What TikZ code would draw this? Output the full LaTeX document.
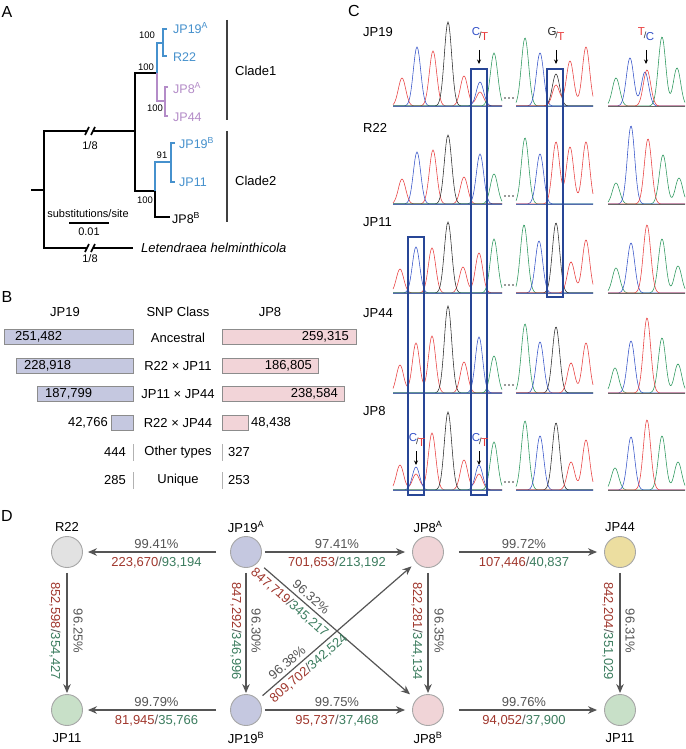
\documentclass[tikz,border=0pt]{standalone}
\usepackage{fontspec}
\setmainfont{Liberation Sans}
\usetikzlibrary{arrows.meta}
\definecolor{tblue}{RGB}{70,145,205}
\definecolor{tpurple}{RGB}{180,140,200}
\definecolor{bar19}{RGB}{197,200,224}
\definecolor{bar8}{RGB}{242,212,216}
\definecolor{pkred}{RGB}{232,60,60}
\definecolor{pkblue}{RGB}{50,80,200}
\definecolor{pkgreen}{RGB}{40,150,90}
\definecolor{pkblack}{RGB}{40,40,40}
\definecolor{boxblue}{RGB}{40,70,150}
\definecolor{nred}{RGB}{160,55,45}
\definecolor{ngreen}{RGB}{60,125,95}
\definecolor{ngray}{RGB}{85,85,85}
\definecolor{cgray}{RGB}{226,226,226}
\definecolor{cpurple}{RGB}{197,200,224}
\definecolor{cpink}{RGB}{240,212,215}
\definecolor{cyellow}{RGB}{236,222,160}
\definecolor{cgreen}{RGB}{200,224,200}
\newcommand{\gpk}[2]{+#2*exp(-min(((\x-#1)*(\x-#1))/27,15))}
\newcommand{\trace}[4]{\draw[#1,trc] plot[domain=#2:#3,samples=110] (\x,{\rb-(0#4)});}
\newcommand{\rg}[2]{\textcolor{nred}{#1}\textcolor{ngray}{/}\textcolor{ngreen}{#2}}
\newcommand{\snplab}[3]{\textcolor{#1}{\raisebox{3pt}{#2}}\kern-1pt{\fontsize{9}{10}\selectfont\textcolor{pkblack}{/}}\kern-0.5pt\textcolor{#3}}
\begin{document}
\begin{tikzpicture}[x=1pt,y=-1pt,every node/.style={inner sep=1pt},
 tree/.style={line width=2.2pt},
 clbar/.style={line width=1.3pt, draw=black!75},
 alab/.style={font=\fontsize{12.5}{14}\selectfont, anchor=west},
 boot/.style={font=\fontsize{9.5}{11}\selectfont},
 plet/.style={font=\fontsize{16}{18}\selectfont},
 btxt/.style={font=\fontsize{13}{15}\selectfont},
 b19/.style={fill=bar19, draw=black!45, line width=0.8pt},
 b8/.style={fill=bar8, draw=black!45, line width=0.8pt},
 sepline/.style={draw=black!30, line width=0.8pt},
 trc/.style={line width=0.55pt},
 cbox/.style={draw=boxblue, line width=1.1pt},
 bline/.style={draw=boxblue!80, line width=0.8pt},
 snp/.style={font=\fontsize{11.5}{12}\selectfont, inner sep=0pt},
 carr/.style={line width=0.9pt, -{Stealth[length=4.5pt,width=4pt]}},
 dnode/.style={circle, minimum size=31pt, draw=black!35, line width=0.9pt, inner sep=0pt},
 dlab/.style={font=\fontsize{13}{15}\selectfont},
 darr/.style={draw=ngray, line width=1.2pt, -{Stealth[length=9pt,width=7.5pt]}},
 pct/.style={font=\fontsize{13}{15}\selectfont, text=ngray},
 num/.style={font=\fontsize{13}{15}\selectfont}]
\fill[white] (0,0) rectangle (685,749);
\useasboundingbox (0,0) rectangle (685,749);

% ---------------- Panel A ----------------
\node[plet] (la) at (7,12) {A};
\draw[tree] (31,190) -- (44,190);
\draw[tree] (87,131) -| (44,248) -- (87,248);
\draw[tree] (93,131) -- (135,131);
\draw[tree] (93,248) -- (133,248);
\draw[line width=1.6pt] (85,135) -- (89,127) (91,135) -- (95,127);
\draw[line width=1.6pt] (85,252) -- (89,244) (91,252) -- (95,244);
\node[boot,font=\fontsize{11}{12}\selectfont] (b18a) at (90,146) {1/8};
\node[boot,font=\fontsize{11}{12}\selectfont] (b18b) at (90,259) {1/8};
\draw[tree] (157,73) -- (135,73) -- (135,191) -- (155,191);
\draw[tree,tblue] (157,73) -- (157,43) -- (163,43);
\draw[tree,tblue] (167,29) -- (163,29) -- (163,56) -- (167,56);
\draw[tree,tpurple] (157,73) -- (157,101) -- (165,101);
\draw[tree,tpurple] (168,87) -- (165,87) -- (165,116) -- (168,116);
\draw[tree,tblue] (155,191) -- (155,162) -- (171,162);
\draw[tree,tblue] (175,143) -- (171,143) -- (171,182) -- (175,182);
\draw[tree] (155,191) -- (155,217) -- (170,217);
\node[boot] (bs1) at (147,35) {100};
\node[boot] (bs2) at (146,67) {100};
\node[boot] (bs3) at (155,108) {100};
\node[boot] (bs4) at (145,200) {100};
\node[boot] (bs5) at (162,155) {91};
\node[alab,tblue] (t1) at (172,28) {JP19\textsuperscript{A}};
\node[alab,tblue] (t2) at (172,57) {R22};
\node[alab,tpurple] (t3) at (172,88) {JP8\textsuperscript{A}};
\node[alab,tpurple] (t4) at (172,117) {JP44};
\node[alab,tblue] (t5) at (178,143) {JP19\textsuperscript{B}};
\node[alab,tblue] (t6) at (178,182) {JP11};
\node[alab] (t7) at (171,218) {JP8\textsuperscript{B}};
\draw[clbar] (227,20) -- (227,120);
\draw[clbar] (227,131) -- (227,222);
\node[alab,font=\fontsize{13}{15}\selectfont] (cl1) at (234,71) {Clade1};
\node[alab,font=\fontsize{13}{15}\selectfont] (cl2) at (234,181) {Clade2};
\node[boot,font=\fontsize{11}{12}\selectfont] (sst) at (88,214) {substitutions/site};
\draw[line width=1.8pt] (69,223) -- (109,223);
\node[boot,font=\fontsize{11}{12}\selectfont] (ssv) at (89,232) {0.01};
\node[alab,font=\fontsize{13}{15}\selectfont\itshape] (out) at (140,248) {Letendraea helminthicola};

% ---------------- Panel B ----------------
\node[plet] (lb) at (7,297) {B};
\node[btxt] (h1) at (65,312) {JP19};
\node[btxt] (h2) at (178,312) {SNP Class};
\node[btxt] (h3) at (270,312) {JP8};
\draw[b19] (4,329) rectangle (133,344);
\draw[b19] (16,358) rectangle (133,373);
\draw[b19] (37,386) rectangle (133,401);
\draw[b19] (111,415) rectangle (133,430);
\draw[b8] (222,329) rectangle (356,344);
\draw[b8] (222,358) rectangle (318,373);
\draw[b8] (222,386) rectangle (344,401);
\draw[b8] (222,415) rectangle (248,430);
\node[btxt,anchor=west] (v1) at (14,336.5) {251,482};
\node[btxt,anchor=west] (v2) at (23,365.5) {228,918};
\node[btxt,anchor=west] (v3) at (44,393.5) {187,799};
\node[btxt,anchor=east] (v4) at (109,422.5) {42,766};
\node[btxt,anchor=east] (w1) at (350,336.5) {259,315};
\node[btxt,anchor=east] (w2) at (313,365.5) {186,805};
\node[btxt,anchor=east] (w3) at (339,393.5) {238,584};
\node[btxt,anchor=west] (w4) at (250,422.5) {48,438};
\node[btxt] (c1) at (178,338) {Ancestral};
\node[btxt] (c2) at (178,366) {R22 × JP11};
\node[btxt] (c3) at (178,394) {JP11 × JP44};
\node[btxt] (c4) at (178,423) {R22 × JP44};
\node[btxt] (c5) at (178,452) {Other types};
\node[btxt] (c6) at (178,480) {Unique};
\node[btxt,anchor=east] (v5) at (127,452) {444};
\node[btxt,anchor=east] (v6) at (127,480) {285};
\node[btxt,anchor=west] (w5) at (227,452) {327};
\node[btxt,anchor=west] (w6) at (227,480) {253};
\draw[sepline] (133,444) -- (133,461) (222,444) -- (222,461);
\draw[sepline] (133,472) -- (133,489) (222,472) -- (222,489);

% ---------------- Panel C ----------------
\node[plet] (lc) at (354,11) {C};
\node[btxt,anchor=west] (r1) at (362,32) {JP19};
\node[btxt,anchor=west] (r2) at (362,128) {R22};
\node[btxt,anchor=west] (r3) at (362,222) {JP11};
\node[btxt,anchor=west] (r4) at (362,313) {JP44};
\node[btxt,anchor=west] (r5) at (362,411) {JP8};
% row JP19
\def\rb{106}
\trace{pkred}{393}{502}{\gpk{402}{28}\gpk{433}{55}\gpk{464}{30}\gpk{480}{14}}
\trace{pkblue}{393}{502}{\gpk{417}{59}\gpk{480}{24}}
\trace{pkblack}{393}{502}{\gpk{448}{84}}
\trace{pkgreen}{393}{502}{\gpk{494}{53}}
\trace{pkgreen}{516}{593}{\gpk{525}{68}}
\trace{pkblue}{516}{593}{\gpk{540}{53}}
\trace{pkblack}{516}{593}{\gpk{556}{32}}
\trace{pkred}{516}{593}{\gpk{556}{21}\gpk{570}{45}\gpk{586}{59}}
\trace{pkgreen}{608}{685}{\gpk{616}{28}\gpk{662}{69}\gpk{677}{38}}
\trace{pkblue}{608}{685}{\gpk{630}{48}\gpk{645}{34}}
\trace{pkred}{608}{685}{\gpk{647}{36}}
% row R22
\def\rb{204}
\trace{pkred}{393}{502}{\gpk{402}{25}\gpk{433}{54}\gpk{464}{27}}
\trace{pkblue}{393}{502}{\gpk{417}{52}\gpk{480}{50}}
\trace{pkblack}{393}{502}{\gpk{448}{69}}
\trace{pkgreen}{393}{502}{\gpk{494}{30}}
\trace{pkgreen}{516}{593}{\gpk{525}{66}}
\trace{pkblue}{516}{593}{\gpk{540}{50}}
\trace{pkred}{516}{593}{\gpk{556}{62}\gpk{570}{57}\gpk{586}{62}}
\trace{pkgreen}{608}{685}{\gpk{616}{21}\gpk{663}{49}\gpk{679}{26}}
\trace{pkblue}{608}{685}{\gpk{631}{78}}
\trace{pkred}{608}{685}{\gpk{648}{65}}
% row JP11
\def\rb{293}
\trace{pkred}{393}{502}{\gpk{400}{24}\gpk{432}{45}\gpk{463}{26}\gpk{479}{40}}
\trace{pkblue}{393}{502}{\gpk{416}{46}}
\trace{pkblack}{393}{502}{\gpk{448}{71}}
\trace{pkgreen}{393}{502}{\gpk{494}{54}}
\trace{pkgreen}{516}{593}{\gpk{524}{68}}
\trace{pkblue}{516}{593}{\gpk{539}{52}}
\trace{pkblack}{516}{593}{\gpk{556}{70}}
\trace{pkred}{516}{593}{\gpk{571}{31}\gpk{586}{53}}
\trace{pkgreen}{608}{685}{\gpk{616}{25}\gpk{662}{54}\gpk{678}{27}}
\trace{pkblue}{608}{685}{\gpk{631}{50}}
\trace{pkred}{608}{685}{\gpk{647}{68}}
% row JP44
\def\rb{393}
\trace{pkred}{393}{502}{\gpk{400}{28}\gpk{416}{50}\gpk{432}{57}\gpk{464}{31}}
\trace{pkblack}{393}{502}{\gpk{448}{87}}
\trace{pkblue}{393}{502}{\gpk{479}{56}}
\trace{pkgreen}{393}{502}{\gpk{494}{37}}
\trace{pkgreen}{516}{593}{\gpk{525}{69}}
\trace{pkblue}{516}{593}{\gpk{540}{51}}
\trace{pkblack}{516}{593}{\gpk{556}{66}}
\trace{pkred}{516}{593}{\gpk{571}{30}\gpk{586}{50}}
\trace{pkgreen}{608}{685}{\gpk{615}{25}\gpk{662}{55}\gpk{678}{29}}
\trace{pkblue}{608}{685}{\gpk{631}{52}}
\trace{pkred}{608}{685}{\gpk{647}{75}}
% row JP8
\def\rb{490}
\trace{pkred}{393}{502}{\gpk{400}{25}\gpk{416}{16}\gpk{432}{57}\gpk{464}{30}\gpk{479}{16}}
\trace{pkblue}{393}{502}{\gpk{416}{23}\gpk{479}{25}}
\trace{pkblack}{393}{502}{\gpk{448}{78}}
\trace{pkgreen}{393}{502}{\gpk{494}{48}}
\trace{pkgreen}{516}{593}{\gpk{525}{69}}
\trace{pkblue}{516}{593}{\gpk{540}{54}}
\trace{pkblack}{516}{593}{\gpk{556}{67}}
\trace{pkred}{516}{593}{\gpk{571}{28}\gpk{586}{50}}
\trace{pkgreen}{608}{685}{\gpk{615}{22}\gpk{662}{54}\gpk{678}{28}}
\trace{pkblue}{608}{685}{\gpk{631}{53}}
\trace{pkred}{608}{685}{\gpk{647}{70}}
% baselines and dots
\foreach \yy in {106,204,293,393,490}{
  \draw[bline] (393,\yy) -- (502,\yy) (516,\yy) -- (593,\yy);
  \draw[draw=black!60,line width=0.8pt] (608,\yy) -- (685,\yy);
  \foreach \xx in {505,509,513}{\fill[black!80] (\xx,\yy-8) circle (0.9pt);}
}
% boxes
\draw[cbox] (471,69) rectangle (487,495);
\draw[cbox] (547,69) rectangle (563,297);
\draw[cbox] (408,237) rectangle (424,495);
% SNP labels
\node[snp] (s1) at (480,34) {\snplab{pkblue}{C}{pkred}{\raisebox{-2pt}{T}}};
\node[snp] (s2) at (556,34) {\snplab{pkblack}{G}{pkred}{\raisebox{-2pt}{T}}};
\node[snp] (s3) at (646,34) {\snplab{pkred}{T}{pkblue}{\raisebox{-2pt}{C}}};
\node[snp] (s4) at (417,440) {\snplab{pkblue}{C}{pkred}{\raisebox{-2pt}{T}}};
\node[snp] (s5) at (480,440) {\snplab{pkblue}{C}{pkred}{\raisebox{-2pt}{T}}};
\coordinate (a1s) at (479,50); \coordinate (a1e) at (479,64);
\coordinate (a2s) at (556,50); \coordinate (a2e) at (556,64);
\coordinate (a3s) at (646,50); \coordinate (a3e) at (646,64);
\coordinate (a4s) at (416,451); \coordinate (a4e) at (416,465);
\coordinate (a5s) at (479,451); \coordinate (a5e) at (479,465);
\draw[carr] (a1s) -- (a1e);
\draw[carr] (a2s) -- (a2e);
\draw[carr] (a3s) -- (a3e);
\draw[carr] (a4s) -- (a4e);
\draw[carr] (a5s) -- (a5e);

% ---------------- Panel D ----------------
\node[plet] (ld) at (7,516) {D};
\node[dnode, fill=cgray] (r22) at (67,552) {};
\node[dnode, fill=cpurple] (j19a) at (246,552) {};
\node[dnode, fill=cpink] (j8a) at (428,552) {};
\node[dnode, fill=cyellow] (j44) at (620,552) {};
\node[dnode, fill=cgreen] (j11a) at (67,710) {};
\node[dnode, fill=cpurple] (j19b) at (246,710) {};
\node[dnode, fill=cpink] (j8b) at (428,710) {};
\node[dnode, fill=cgreen] (j11b) at (620,710) {};
\node[dlab] (r22t) at (67,527) {R22};
\node[dlab] (j19at) at (246,527) {JP19\textsuperscript{A}};
\node[dlab] (j8at) at (428,527) {JP8\textsuperscript{A}};
\node[dlab] (j44t) at (620,527) {JP44};
\node[dlab] (j11at) at (67,738) {JP11};
\node[dlab] (j19bt) at (246,738) {JP19\textsuperscript{B}};
\node[dlab] (j8bt) at (428,738) {JP8\textsuperscript{B}};
\node[dlab] (j11bt) at (620,738) {JP11};
\draw[darr, shorten <=14pt, shorten >=5pt] (j19a) -- (r22)
  node[pct, midway, above=2pt] (p1) {99.41\%} node[num, midway, below=3pt] (n1) {\rg{223,670}{93,194}};
\draw[darr, shorten <=3pt, shorten >=7pt] (j19a) -- (j8a)
  node[pct, midway, above=2pt] (p2) {97.41\%} node[num, midway, below=3pt] (n2) {\rg{701,653}{213,192}};
\draw[darr, shorten <=15pt, shorten >=7pt] (j8a) -- (j44)
  node[pct, midway, above=2pt] (p3) {99.72\%} node[num, midway, below=3pt] (n3) {\rg{107,446}{40,837}};
\draw[darr, shorten <=14pt, shorten >=5pt] (j19b) -- (j11a)
  node[pct, midway, above=2pt] (p4) {99.79\%} node[num, midway, below=3pt] (n4) {\rg{81,945}{35,766}};
\draw[darr, shorten <=3pt, shorten >=7pt] (j19b) -- (j8b)
  node[pct, midway, above=2pt] (p5) {99.75\%} node[num, midway, below=3pt] (n5) {\rg{95,737}{37,468}};
\draw[darr, shorten <=15pt, shorten >=7pt] (j8b) -- (j11b)
  node[pct, midway, above=2pt] (p6) {99.76\%} node[num, midway, below=3pt] (n6) {\rg{94,052}{37,900}};
\draw[darr, shorten <=5pt, shorten >=1pt] (r22) -- (j11a)
  node[num, midway, xshift=-12pt, rotate=-90] (n7) {\rg{852,598}{354,427}}
  node[pct, midway, xshift=11pt, rotate=-90] (p7) {96.25\%};
\draw[darr, shorten <=5pt, shorten >=1pt] (j19a) -- (j19b)
  node[num, midway, xshift=-10pt, rotate=-90] (n8) {\rg{847,292}{346,996}}
  node[pct, midway, xshift=10pt, rotate=-90] (p8) {96.30\%};
\draw[darr, shorten <=5pt, shorten >=1pt] (j8a) -- (j8b)
  node[num, midway, xshift=-11pt, rotate=-90] (n9) {\rg{822,281}{344,134}}
  node[pct, midway, xshift=11pt, rotate=-90] (p9) {96.35\%};
\draw[darr, shorten <=5pt, shorten >=1pt] (j44) -- (j11b)
  node[num, midway, xshift=-12pt, rotate=-90] (n10) {\rg{842,204}{351,029}}
  node[pct, midway, xshift=10pt, rotate=-90] (p10) {96.31\%};
\draw[darr, shorten <=8pt, shorten >=8pt] (j19a) -- (j8b)
  node[pct, pos=0.3, sloped, above=2.5pt] (p11) {96.32\%}
  node[num, pos=0.24, sloped, below=2.5pt] (n11) {\rg{847,719}{345,217}};
\draw[darr, shorten <=6pt, shorten >=6pt] (j19b) -- (j8a)
  node[pct, pos=0.22, sloped, above=2.5pt] (p12) {96.38\%}
  node[num, pos=0.28, sloped, below=2.5pt] (n12) {\rg{809,702}{342,524}};
\end{tikzpicture}
\end{document}
